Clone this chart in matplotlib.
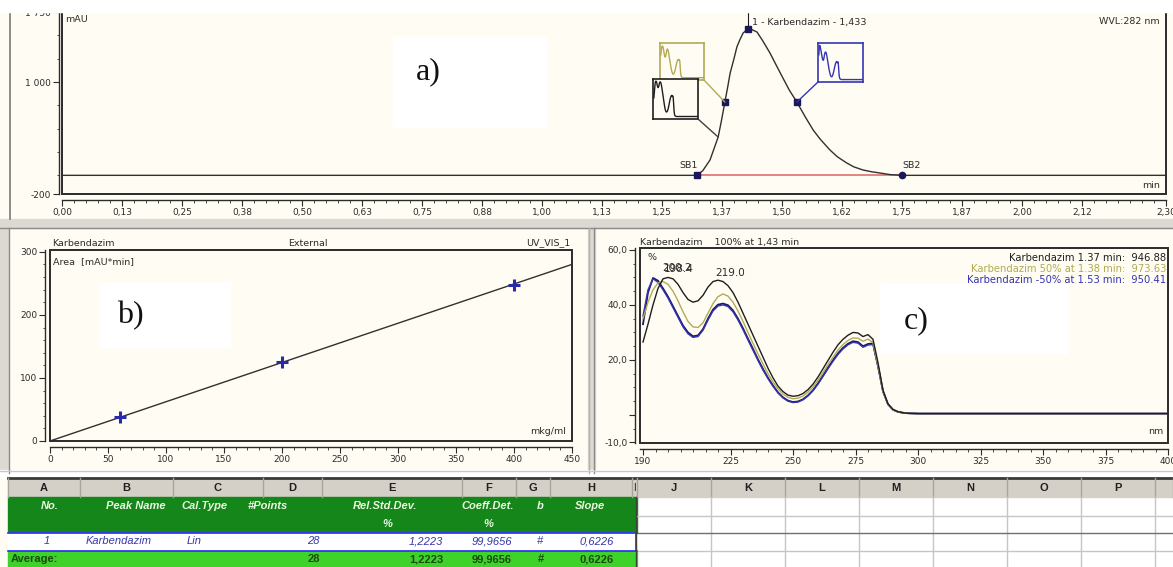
import matplotlib
matplotlib.use("Agg")
import matplotlib.pyplot as plt
from matplotlib.patches import Rectangle, ConnectionPatch
from matplotlib.ticker import FixedLocator, MultipleLocator

W, H = 1173, 567

# ---- a) chromatogram, WVL 282 nm ----
chrom_t = [0.0, 1.30, 1.323, 1.335, 1.35, 1.358, 1.367, 1.374, 1.381, 1.387, 1.392, 1.40,
           1.406, 1.412, 1.419, 1.429, 1.438, 1.448, 1.46, 1.475, 1.49, 1.502, 1.515, 1.531,
           1.548, 1.565, 1.58, 1.60, 1.615, 1.635, 1.65, 1.669, 1.687, 1.704, 1.725, 1.75, 2.30]
chrom_mau = [0, 0, 0, 50, 164, 280, 410, 590, 785, 950, 1096, 1250,
             1375, 1450, 1525, 1567, 1560, 1535, 1440, 1310, 1160, 1042, 915, 785,
             630, 485, 385, 271, 200, 132, 90, 57, 38, 25, 8, 0, 0]
mark_t = [1.323, 1.381, 1.429, 1.531]
mark_mau = [0, 785, 1567, 785]
sb2_t, sb2_mau = 1.75, 0
a_xticks = [0.0, 0.125, 0.25, 0.375, 0.5, 0.625, 0.75, 0.875, 1.0, 1.125, 1.25,
            1.375, 1.5, 1.625, 1.75, 1.875, 2.0, 2.125, 2.30]
a_xlabels = ["0,00", "0,13", "0,25", "0,38", "0,50", "0,63", "0,75", "0,88", "1,00",
             "1,13", "1,25", "1,37", "1,50", "1,62", "1,75", "1,87", "2,00", "2,12", "2,30"]
a_yticks = [-200, 1000, 1750]
a_ylabels = ["-200", "1 000", "1 750"]

# ---- b) calibration ----
conc = [60, 200, 400]
area = [38, 125, 247]
cal_line_x = [0, 450]
cal_line_y = [0, 280.2]

# ---- c) UV spectra ----
wl = [190, 192, 194, 196, 198, 200, 202, 204, 206, 208, 210, 212, 214, 216, 218, 220,
      222, 224, 226, 228, 230, 232, 234, 236, 238, 240, 242, 244, 246, 248, 250, 252,
      254, 256, 258, 260, 262, 264, 266, 268, 270, 272, 274, 276, 278, 280, 282, 284,
      286, 288, 290, 292, 294, 296, 300, 400]
spec_137 = [26.5, 33, 40, 46, 49.5, 50, 49.5, 47.5, 44.5, 42, 41, 41.5, 43.5, 46.5, 48.5, 49,
            48.5, 47, 44.5, 41, 37, 33, 29, 25, 21, 17, 13.5, 10.5, 8.5, 7.2, 6.8, 7,
            7.8, 9.2, 11.2, 13.8, 16.8, 19.8, 22.8, 25.5, 27.5, 29, 30, 29.8, 28.5, 29.2, 27.5, 19,
            9, 4, 2, 1.2, 0.8, 0.6, 0.5, 0.5]
spec_50 = [35, 41, 45.5, 48, 48.5, 47.5, 45, 41.5, 37.5, 34, 32, 31.8, 33.5, 37, 40.5, 43,
           44, 43.2, 41, 37.8, 34, 30, 26, 22.2, 18.5, 15, 12, 9.5, 7.6, 6.4, 5.9, 6.1,
           6.9, 8.3, 10.2, 12.6, 15.4, 18.3, 21, 23.6, 25.6, 27.1, 28, 27.9, 26.8, 27.6, 26.3, 18,
           8.7, 3.9, 1.9, 1.1, 0.8, 0.6, 0.5, 0.5]
spec_m50 = [36, 45.5, 49.5, 48.2, 45.5, 42.5, 39, 35.5, 32, 29.5, 28.2, 28.5, 30.8, 34.5, 37.8, 39.6,
            40, 39.4, 37.5, 34.5, 31, 27.2, 23.5, 19.8, 16.3, 13.2, 10.4, 8, 6.2, 5, 4.5, 4.7,
            5.5, 6.9, 8.8, 11.2, 14, 16.8, 19.5, 22, 24, 25.5, 26.4, 26.1, 24.6, 25.4, 25.6, 17.5,
            8.4, 3.8, 1.9, 1.1, 0.8, 0.6, 0.5, 0.5]
spec_100 = [33, 44.5, 49.8, 48.8, 46, 43, 39.5, 36, 32.5, 30, 28.6, 28.9, 31.2, 35, 38.3, 40.1,
            40.5, 39.9, 38, 35, 31.5, 27.7, 24, 20.2, 16.7, 13.5, 10.7, 8.2, 6.4, 5.2, 4.7, 4.9,
            5.7, 7.1, 9, 11.5, 14.3, 17.2, 19.9, 22.4, 24.4, 25.9, 26.8, 26.5, 25, 25.8, 26, 17.8,
            8.6, 3.9, 1.9, 1.1, 0.8, 0.6, 0.5, 0.5]
c_xticks = [190, 225, 250, 275, 300, 325, 350, 375, 400]
c_yticks = [-10, 0, 20, 40, 60]
c_ylabels = ["-10,0", "", "20,0", "40,0", "60,0"]
legend_lines = ["Karbendazim 1.37 min:  946.88",
                "Karbendazim 50% at 1.38 min:  973.63",
                "Karbendazim -50% at 1.53 min:  950.41"]

# ---- table ----
left_letters = ["A", "B", "C", "D", "E", "F", "G", "H"]
right_letters = ["J", "K", "L", "M", "N", "O", "P"]
header_top = ["No.", "Peak Name", "Cal.Type", "#Points", "Rel.Std.Dev.", "Coeff.Det.", "b", "Slope"]
row1 = ["1", "Karbendazim", "Lin", "28", "1,2223", "99,9656", "#", "0,6226"]
avg_row = ["Average:", "28", "1,2223", "99,9656", "#", "0,6226"]

CREAM = "#fffdf3"
DARK = "#2b2b2b"
OLIVE = "#b2aa55"
BLUE = "#3535b5"
NAVY = "#18185a"
FONT = "DejaVu Sans"
TFONT = "Liberation Sans"


def fbox(x0, y0, x1, y1):
    return [x0 / W, 1 - y1 / H, (x1 - x0) / W, (y1 - y0) / H]


def style(ax, left_off, bottom_off):
    ax.set_facecolor(CREAM)
    for s in ["top", "right"]:
        ax.spines[s].set_visible(False)
    ax.spines["left"].set_position(("outward", left_off))
    ax.spines["bottom"].set_position(("outward", bottom_off))
    for s in ["left", "bottom"]:
        ax.spines[s].set_color(DARK)
        ax.spines[s].set_linewidth(1.0)
    ax.add_patch(Rectangle((0, 0), 1, 1, transform=ax.transAxes, fill=False,
                           ec=DARK, lw=1.4, clip_on=False, zorder=6))
    ax.tick_params(which="major", length=4, width=0.8, colors=DARK, labelsize=6.5, pad=1.5)
    ax.tick_params(which="minor", length=1.8, width=0.6, colors=DARK)
    for lab in ax.get_xticklabels() + ax.get_yticklabels():
        lab.set_fontfamily(FONT)


fig = plt.figure(figsize=(W / 100, H / 100), dpi=100, facecolor=CREAM)

# background layer: borders and table
bg = fig.add_axes([0, 0, 1, 1], zorder=-1)
bg.set_xlim(0, W)
bg.set_ylim(H, 0)
bg.axis("off")
bg.add_patch(Rectangle((0, 219), W, 9, color="#dcd9d2"))
bg.plot([0, W], [227.5, 227.5], color="#8a8a8a", lw=1)
bg.add_patch(Rectangle((588, 228), 7, 245, color="#dcd9d2"))
bg.plot([594, 594], [228, 473], color="#8a8a8a", lw=1)
bg.plot([589, 589], [228, 473], color="#b0b0b0", lw=1)
bg.add_patch(Rectangle((0, 228), 8, 245, color="#dcd9d2"))
bg.plot([9, 9], [228, 473], color="#8a8a8a", lw=1)
bg.plot([10, 10], [12, 219], color="#7a7a7a", lw=1.2)
bg.add_patch(Rectangle((0, 470), W, 7, color="#ffffff"))
bg.plot([0, W], [471, 471], color="#c8c8c8", lw=1)

# table
left_cols = [8, 80, 173, 263, 322, 462, 516, 550, 632]
right_cols = [637, 711, 785, 859, 933, 1007, 1081, 1155, 1173]
bg.add_patch(Rectangle((8, 477), W - 8, H - 477, color="#ffffff"))
bg.add_patch(Rectangle((8, 478), W - 8, 19, color="#d4d0c8"))
bg.plot([8, W], [477.5, 477.5], color="#3a3a3a", lw=2)
for x in left_cols + right_cols:
    bg.plot([x, x], [478, 497], color="#a8a49c", lw=1)
for i, s in enumerate(left_letters):
    bg.text((left_cols[i] + left_cols[i + 1]) / 2, 488, s, ha="center", va="center",
            fontsize=8, fontweight="bold", color="#202020", family=TFONT)
bg.text(634, 488, "I", ha="center", va="center", fontsize=7, color="#202020", family=TFONT)
for i, s in enumerate(right_letters):
    bg.text((right_cols[i] + right_cols[i + 1]) / 2, 488, s, ha="center", va="center",
            fontsize=8, fontweight="bold", color="#202020", family=TFONT)
for x in right_cols[1:-1]:
    bg.plot([x, x], [497, H], color="#c6c6c6", lw=1)
for y, c in [(516, "#c6c6c6"), (533, "#707070"), (551, "#c6c6c6")]:
    bg.plot([637, W], [y, y], color=c, lw=1)
bg.add_patch(Rectangle((8, 497), 629, 36, color="#14861a"))
bg.add_patch(Rectangle((8, 533), 629, 17, color="#ffffff"))
bg.add_patch(Rectangle((8, 551), 629, H - 551, color="#3fd22a"))
bg.plot([8, 637], [533, 533], color="#2a2aff", lw=1.2)
bg.plot([8, 637], [550.5, 550.5], color="#2a2aff", lw=1.2)
bg.plot([636, 636], [533, 551], color="#2a2aff", lw=1.2)
bg.plot([636, 636], [497, H], color="#404040", lw=1)

hdr_x = [50, 136, 205, 268, 385, 488, 540, 590]
hkw = dict(ha="center", va="center", fontsize=8, fontweight="bold", fontstyle="italic",
           color="#eaf8e0", family=TFONT)
for x, s in zip(hdr_x, header_top):
    bg.text(x, 506, s, **hkw)
bg.text(387, 524, "%", **hkw)
bg.text(488, 524, "%", **hkw)

rkw = dict(va="center", fontsize=8, fontstyle="italic", color="#3636a8", family=TFONT)
bg.text(47, 541.5, row1[0], ha="center", **rkw)
t = bg.text(86, 541.5, row1[1], ha="left", **rkw)
t.set_clip_path(Rectangle((80, 533), 104, 18, transform=bg.transData))
bg.text(187, 541.5, row1[2], ha="left", **rkw)
for x, s in zip([320, 443, 512], row1[3:6]):
    bg.text(x, 541.5, s, ha="right", **rkw)
bg.text(540, 541.5, row1[6], ha="center", **rkw)
bg.text(614, 541.5, row1[7], ha="right", **rkw)

akw = dict(va="center", fontsize=8, fontweight="bold", color="#1d4a12", family=TFONT)
bg.text(11, 559.5, avg_row[0], ha="left", **akw)
for x, s in zip([320, 443, 512], avg_row[1:4]):
    bg.text(x, 559.5, s, ha="right", **akw)
bg.text(541, 559.5, avg_row[4], ha="center", **akw)
bg.text(614, 559.5, avg_row[5], ha="right", **akw)

# ---- panel a ----
ax = fig.add_axes(fbox(62, 12, 1166, 194))
ax.set_xlim(0, 2.30)
ax.set_ylim(-200, 1750)
ax.plot([1.323, 1.75], [0, 0], color="#e07a7a", lw=1.3, zorder=2)
ax.plot(chrom_t, chrom_mau, color="#303030", lw=1.0, zorder=3, solid_joinstyle="round")
ax.plot([mark_t[2], mark_t[2]], [mark_mau[2], 1750], color="#202020", lw=0.8, zorder=3)
ax.plot(mark_t, mark_mau, "s", color=NAVY, ms=4, zorder=4)
ax.plot([sb2_t], [sb2_mau], "o", color=NAVY, ms=4.5, zorder=4)
ax.xaxis.set_major_locator(FixedLocator(a_xticks))
ax.set_xticklabels(a_xlabels)
ax.xaxis.set_minor_locator(MultipleLocator(0.025))
ax.yaxis.set_major_locator(FixedLocator(a_yticks))
ax.set_yticklabels(a_ylabels)
ax.yaxis.set_minor_locator(FixedLocator([0, 250, 500, 750, 1250, 1500]))
style(ax, 2.5, 4.5)

# spectrum thumbnails
for box, spec, col in [((660, 43, 704, 80), spec_50, OLIVE),
                       ((653, 79, 698, 119), spec_137, "#1e1e1e"),
                       ((818, 43, 863, 82), spec_m50, BLUE)]:
    ins = fig.add_axes(fbox(*box))
    ins.set_facecolor(CREAM)
    ins.plot(wl, spec, color=col, lw=1.0)
    ins.set_xlim(186, 400)
    ins.set_ylim(-3, 53)
    ins.set_xticks([])
    ins.set_yticks([])
    for s in ins.spines.values():
        s.set_color(col)
        s.set_linewidth(1.2)

for (px, py), (tx, ty), col in [((704, 80), (1.381, 785), OLIVE),
                                ((698, 119), (1.367, 410), "#404040"),
                                ((818, 82), (1.531, 785), BLUE)]:
    fig.add_artist(ConnectionPatch(xyA=(px / W, 1 - py / H), coordsA="figure fraction",
                                   xyB=(tx, ty), coordsB=ax.transData, color=col, lw=1.0))

# ---- panel b ----
bx = fig.add_axes(fbox(50, 250, 572, 441))
bx.set_xlim(0, 450)
bx.set_ylim(0, 303)
bx.plot(cal_line_x, cal_line_y, color="#303030", lw=1.0)
bx.plot(conc, area, "+", color="#2a2aa8", ms=9, mew=2.2)
bx.set_xticks(range(0, 451, 50))
bx.xaxis.set_minor_locator(MultipleLocator(10))
bx.set_yticks([0, 100, 200, 300])
bx.yaxis.set_minor_locator(MultipleLocator(20))
style(bx, 3.5, 4.5)

# ---- panel c ----
cx = fig.add_axes(fbox(640, 248, 1168, 443))
cx.set_xlim(188.8, 400)
cx.set_ylim(-10.2, 60.7)
cx.plot(wl, spec_100, color=NAVY, lw=1.3)
cx.plot(wl, spec_m50, color=BLUE, lw=1.0)
cx.plot(wl, spec_50, color=OLIVE, lw=1.0)
cx.plot(wl, spec_137, color="#1e1e1e", lw=1.0)
cx.set_xticks(c_xticks)
cx.xaxis.set_minor_locator(MultipleLocator(5))
cx.yaxis.set_major_locator(FixedLocator(c_yticks))
cx.set_yticklabels(c_ylabels)
cx.yaxis.set_minor_locator(MultipleLocator(5))
style(cx, 3.5, 4.5)

# ---- overlay: texts, label boxes ----
ov = fig.add_axes([0, 0, 1, 1], zorder=10)
ov.set_xlim(0, W)
ov.set_ylim(H, 0)
ov.axis("off")
tk = dict(fontsize=6.8, color=DARK, family=FONT, va="center")
ov.add_patch(Rectangle((0, 0), W, 12, color="#ffffff", zorder=5))
ov.text(65, 20, "mAU", ha="left", **tk)
ov.text(1160, 22, "WVL:282 nm", ha="right", **tk)
ov.text(1160, 185, "min", ha="right", **tk)
ov.text(752, 23, "1 - Karbendazim - 1,433", ha="left", **tk)
ov.text(689, 166, "SB1", ha="center", **tk)
ov.text(912, 165, "SB2", ha="center", **tk)

ov.text(52, 243, "Karbendazim", ha="left", **tk)
ov.text(308, 243, "External", ha="center", **tk)
ov.text(570, 243, "UV_VIS_1", ha="right", **tk)
ov.text(53, 262, "Area  [mAU*min]", ha="left", **tk)
ov.text(566, 432, "mkg/ml", ha="right", **tk)

ov.text(640, 242, "Karbendazim    100% at 1,43 min", ha="left", **tk)
ov.text(647, 258, "%", ha="left", **tk)
ov.text(1163, 432, "nm", ha="right", **tk)
ov.text(730, 273, "219.0", ha="center", fontsize=7.5, color=DARK, family=FONT, va="center")
ov.text(677, 268, "200.2", ha="center", fontsize=7.5, color=DARK, family=FONT, va="center")
ov.text(679, 269, "198.4", ha="center", fontsize=7.5, color=DARK, family=FONT, va="center")
for i, (s, col) in enumerate(zip(legend_lines, ["#1e1e1e", OLIVE, BLUE])):
    ov.text(1166, 258 + i * 11, s, ha="right", fontsize=7.2, color=col, family=FONT, va="center")

for (x0, y0, x1, y1), lab, (lx, ly) in [((393, 37, 546, 126), "a)", (428, 72)),
                                         ((100, 283, 230, 347), "b)", (130, 316)),
                                         ((880, 284, 1067, 353), "c)", (916, 321))]:
    ov.add_patch(Rectangle((x0, y0), x1 - x0, y1 - y0, color="#ffffff", zorder=3))
    ov.text(lx, ly, lab, ha="center", va="center", fontsize=23, family="Liberation Serif",
            color="#111111", zorder=4)

fig.savefig("out.png", dpi=100, facecolor=fig.get_facecolor())
